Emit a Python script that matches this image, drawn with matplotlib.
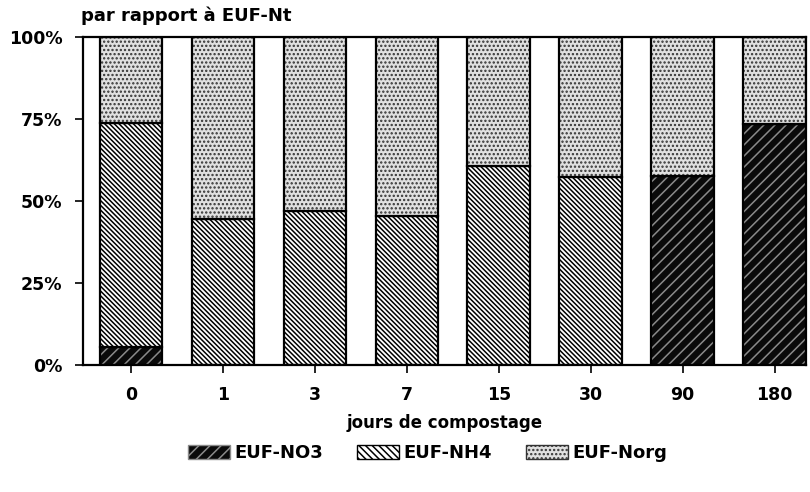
import numpy as np
import matplotlib
matplotlib.use("Agg")
import matplotlib.pyplot as plt
from matplotlib.patches import Patch

plt.rcParams['font.family'] = ['DejaVu Sans']
plt.rcParams['font.weight'] = 'bold'
plt.rcParams['hatch.linewidth'] = 1.1

# jours de compostage
jours = ['0', '1', '3', '7', '15', '30', '90', '180']
# parts relatives (%) par rapport a EUF-Nt
no3 = [5.5, 0.0, 0.0, 0.0, 0.0, 0.0, 57.6, 73.5]
nh4 = [68.3, 44.5, 47.0, 45.5, 60.7, 57.3, 0.0, 0.0]
norg = [26.2, 55.5, 53.0, 54.5, 39.3, 42.7, 42.4, 26.5]
y_ticks = [0, 25, 50, 75, 100]

x = np.arange(len(jours))
w = 0.68
no3 = np.array(no3)
nh4 = np.array(nh4)
norg = np.array(norg)

hatch_no3 = '///'
hatch_nh4 = '\\' * 7
hatch_norg = '....'

fig = plt.figure(figsize=(8.1, 4.92), dpi=100)
ax = fig.add_axes([0.1025, 0.258, 0.8925, 0.667])

# NO3 : fond noir, hachures claires
ax.bar(x, no3, w, color='#0a0a0a', edgecolor='#8a8a8a', hatch=hatch_no3, linewidth=0)
ax.bar(x, no3, w, fill=False, edgecolor='black', linewidth=1.6)
# NH4 : hachures obliques serrees
ax.bar(x, nh4, w, bottom=no3, color='white', edgecolor='black', hatch=hatch_nh4, linewidth=1.6)
# Norg : pointille
ax.bar(x, norg, w, bottom=no3 + nh4, color='#e0e0e0', edgecolor='#333333', hatch=hatch_norg, linewidth=0)
ax.bar(x, norg, w, bottom=no3 + nh4, fill=False, edgecolor='black', linewidth=1.6)

ax.set_xlim(-0.52, 7.34)
ax.set_ylim(0, 100)
ax.set_xticks(x)
ax.set_xticklabels(jours, fontsize=12.5, fontweight='bold')
ax.set_yticks(y_ticks)
ax.set_yticklabels([f'{v}%' for v in y_ticks], fontsize=12.5, fontweight='bold')
ax.tick_params(axis='both', direction='out', length=6, width=1.2, pad=9)
for s in ax.spines.values():
    s.set_linewidth(1.6)

ax.set_xlabel('jours de compostage', fontsize=12, fontweight='bold', labelpad=7)
fig.text(0.1, 0.95, 'par rapport à EUF-Nt', fontsize=13, fontweight='bold', ha='left', va='bottom')

handles = [
    Patch(facecolor='#0a0a0a', edgecolor='#8a8a8a', hatch=hatch_no3, label='EUF-NO3'),
    Patch(facecolor='white', edgecolor='black', hatch='\\' * 5, label='EUF-NH4'),
    Patch(facecolor='#e0e0e0', edgecolor='#333333', hatch=hatch_norg, label='EUF-Norg'),
]
fig.legend(handles=handles, loc='center', bbox_to_anchor=(0.528, 0.079), ncol=3,
           frameon=False, handlelength=2.3, handleheight=0.85,
           columnspacing=1.9, handletextpad=0.25, prop={'weight': 'bold', 'size': 13})

fig.savefig('out.png', dpi=100)
